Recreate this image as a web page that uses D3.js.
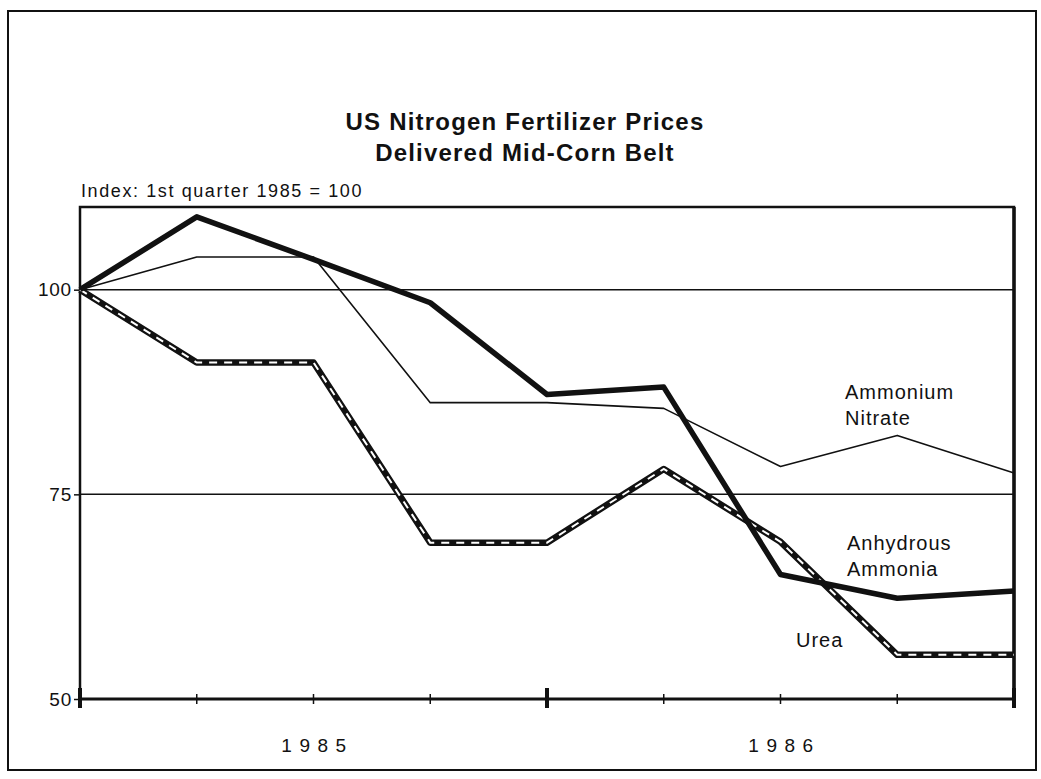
<!DOCTYPE html>
<meta charset="utf-8">
<script src="https://d3js.org/d3.v7.min.js"></script>
<style>
  body { margin: 0; background: #fff; }
  text { font-family: "Liberation Sans", Arial, sans-serif; fill: #111; }
</style>
<div id="chart"></div>
<script>

// quarters, 1st quarter 1985 .. 1st quarter 1987
var quarters = d3.range(9);
var years = ["1985", "1986"];
var yearCenters = [2, 6];
var majorTicks = [0, 4, 8];
var yTicks = [50, 75, 100];

// index values, 1st quarter 1985 = 100
var anhydrous = [100, 108.9, 103.7, 98.4, 87.2, 88.1, 65.2, 62.3, 63.2];
var nitrate   = [100, 104.0, 104.0, 86.2, 86.2, 85.5, 78.4, 82.2, 77.6];
var urea      = [100, 91.1, 91.1, 69.1, 69.1, 78.1, 69.2, 55.4, 55.4];

var W = 1041, H = 779;

var svg = d3.select("#chart").append("svg")
    .attr("width", W)
    .attr("height", H);

// outer frame
svg.append("rect")
    .attr("x", 8).attr("y", 11)
    .attr("width", 1028).attr("height", 759)
    .attr("fill", "none")
    .attr("stroke", "#111")
    .attr("stroke-width", 2);

var x = d3.scaleLinear().domain([0, 8]).range([80, 1014]);
var y = d3.scaleLinear().domain([50, 110.1]).range([699, 207]);

// title
svg.append("text")
    .attr("x", 525).attr("y", 130)
    .attr("text-anchor", "middle")
    .style("font-size", "24px").style("font-weight", "bold")
    .style("letter-spacing", "1.2px")
    .text("US Nitrogen Fertilizer Prices");
svg.append("text")
    .attr("x", 525).attr("y", 161)
    .attr("text-anchor", "middle")
    .style("font-size", "24px").style("font-weight", "bold")
    .style("letter-spacing", "1.2px")
    .text("Delivered Mid-Corn Belt");

svg.append("text")
    .attr("x", 81).attr("y", 197)
    .style("font-size", "18px")
    .style("letter-spacing", "1.6px")
    .text("Index: 1st quarter 1985 = 100");

// gridlines at 100 and 75
svg.append("g").selectAll("line")
  .data([75, 100])
  .join("line")
    .attr("x1", x(0)).attr("x2", x(8))
    .attr("y1", d => y(d)).attr("y2", d => y(d))
    .attr("stroke", "#111").attr("stroke-width", 1.5);

// plot frame: top, left, right
svg.append("path")
    .attr("d", "M" + x(0) + "," + y(50) + "V" + y.range()[1] + "H" + x(8) + "V" + y(50))
    .attr("fill", "none")
    .attr("stroke", "#111")
    .attr("stroke-width", 2.5);
svg.append("line")
    .attr("x1", x(8)).attr("x2", x(8))
    .attr("y1", y.range()[1]).attr("y2", y(50))
    .attr("stroke", "#111").attr("stroke-width", 3.5);

// y axis
var yAxis = svg.append("g")
    .attr("transform", "translate(" + x(0) + ",0)")
    .call(d3.axisLeft(y).tickValues(yTicks).tickSize(6).tickPadding(2));
yAxis.select(".domain").remove();
yAxis.selectAll(".tick line").attr("stroke", "#111").attr("stroke-width", 1.5);
yAxis.selectAll(".tick text")
    .style("font-size", "19px")
    .style("letter-spacing", "0.8px")
    .style("font-family", "'Liberation Sans', Arial, sans-serif")
    .attr("fill", "#111");

// x axis line and ticks
svg.append("line")
    .attr("x1", x(0)).attr("x2", x(8))
    .attr("y1", y(50)).attr("y2", y(50))
    .attr("stroke", "#111").attr("stroke-width", 3);
svg.append("g").selectAll("line")
  .data(quarters)
  .join("line")
    .attr("x1", d => x(d)).attr("x2", d => x(d))
    .attr("y1", d => y(50) - (majorTicks.includes(d) ? 11 : 5))
    .attr("y2", d => y(50) + (majorTicks.includes(d) ? 9 : 5))
    .attr("stroke", "#111")
    .attr("stroke-width", d => majorTicks.includes(d) ? 4 : 1.5);

svg.append("g").selectAll("text")
  .data(years)
  .join("text")
    .attr("x", (d, i) => x(yearCenters[i]) + 4)
    .attr("y", 752)
    .attr("text-anchor", "middle")
    .style("font-size", "19px")
    .style("letter-spacing", "7.5px")
    .text(d => d);

// lines
var line = d3.line()
    .x((d, i) => x(quarters[i]))
    .y(d => y(d));

svg.append("path").datum(nitrate)
    .attr("d", line)
    .attr("fill", "none")
    .attr("stroke", "#111")
    .attr("stroke-width", 1.6)
    .attr("stroke-linejoin", "round");

svg.append("path").datum(urea)
    .attr("d", line)
    .attr("fill", "none")
    .attr("stroke", "#111")
    .attr("stroke-width", 6.5)
    .attr("stroke-linejoin", "round");
svg.append("path").datum(urea)
    .attr("d", line)
    .attr("fill", "none")
    .attr("stroke", "#fff")
    .attr("stroke-width", 2)
    .attr("stroke-dasharray", "8,7");

svg.append("path").datum(anhydrous)
    .attr("d", line)
    .attr("fill", "none")
    .attr("stroke", "#111")
    .attr("stroke-width", 5.5)
    .attr("stroke-linejoin", "round");

// series labels
var labels = [
  {lines: ["Ammonium", "Nitrate"], x: 845, y: 399},
  {lines: ["Anhydrous", "Ammonia"], x: 847, y: 550},
  {lines: ["Urea"], x: 796, y: 647}
];
labels.forEach(function(l) {
  var t = svg.append("text")
      .attr("x", l.x).attr("y", l.y)
      .style("font-size", "20px")
      .style("letter-spacing", "1px");
  l.lines.forEach(function(s, i) {
    t.append("tspan").attr("x", l.x).attr("dy", i === 0 ? 0 : 26).text(s);
  });
});

</script>
